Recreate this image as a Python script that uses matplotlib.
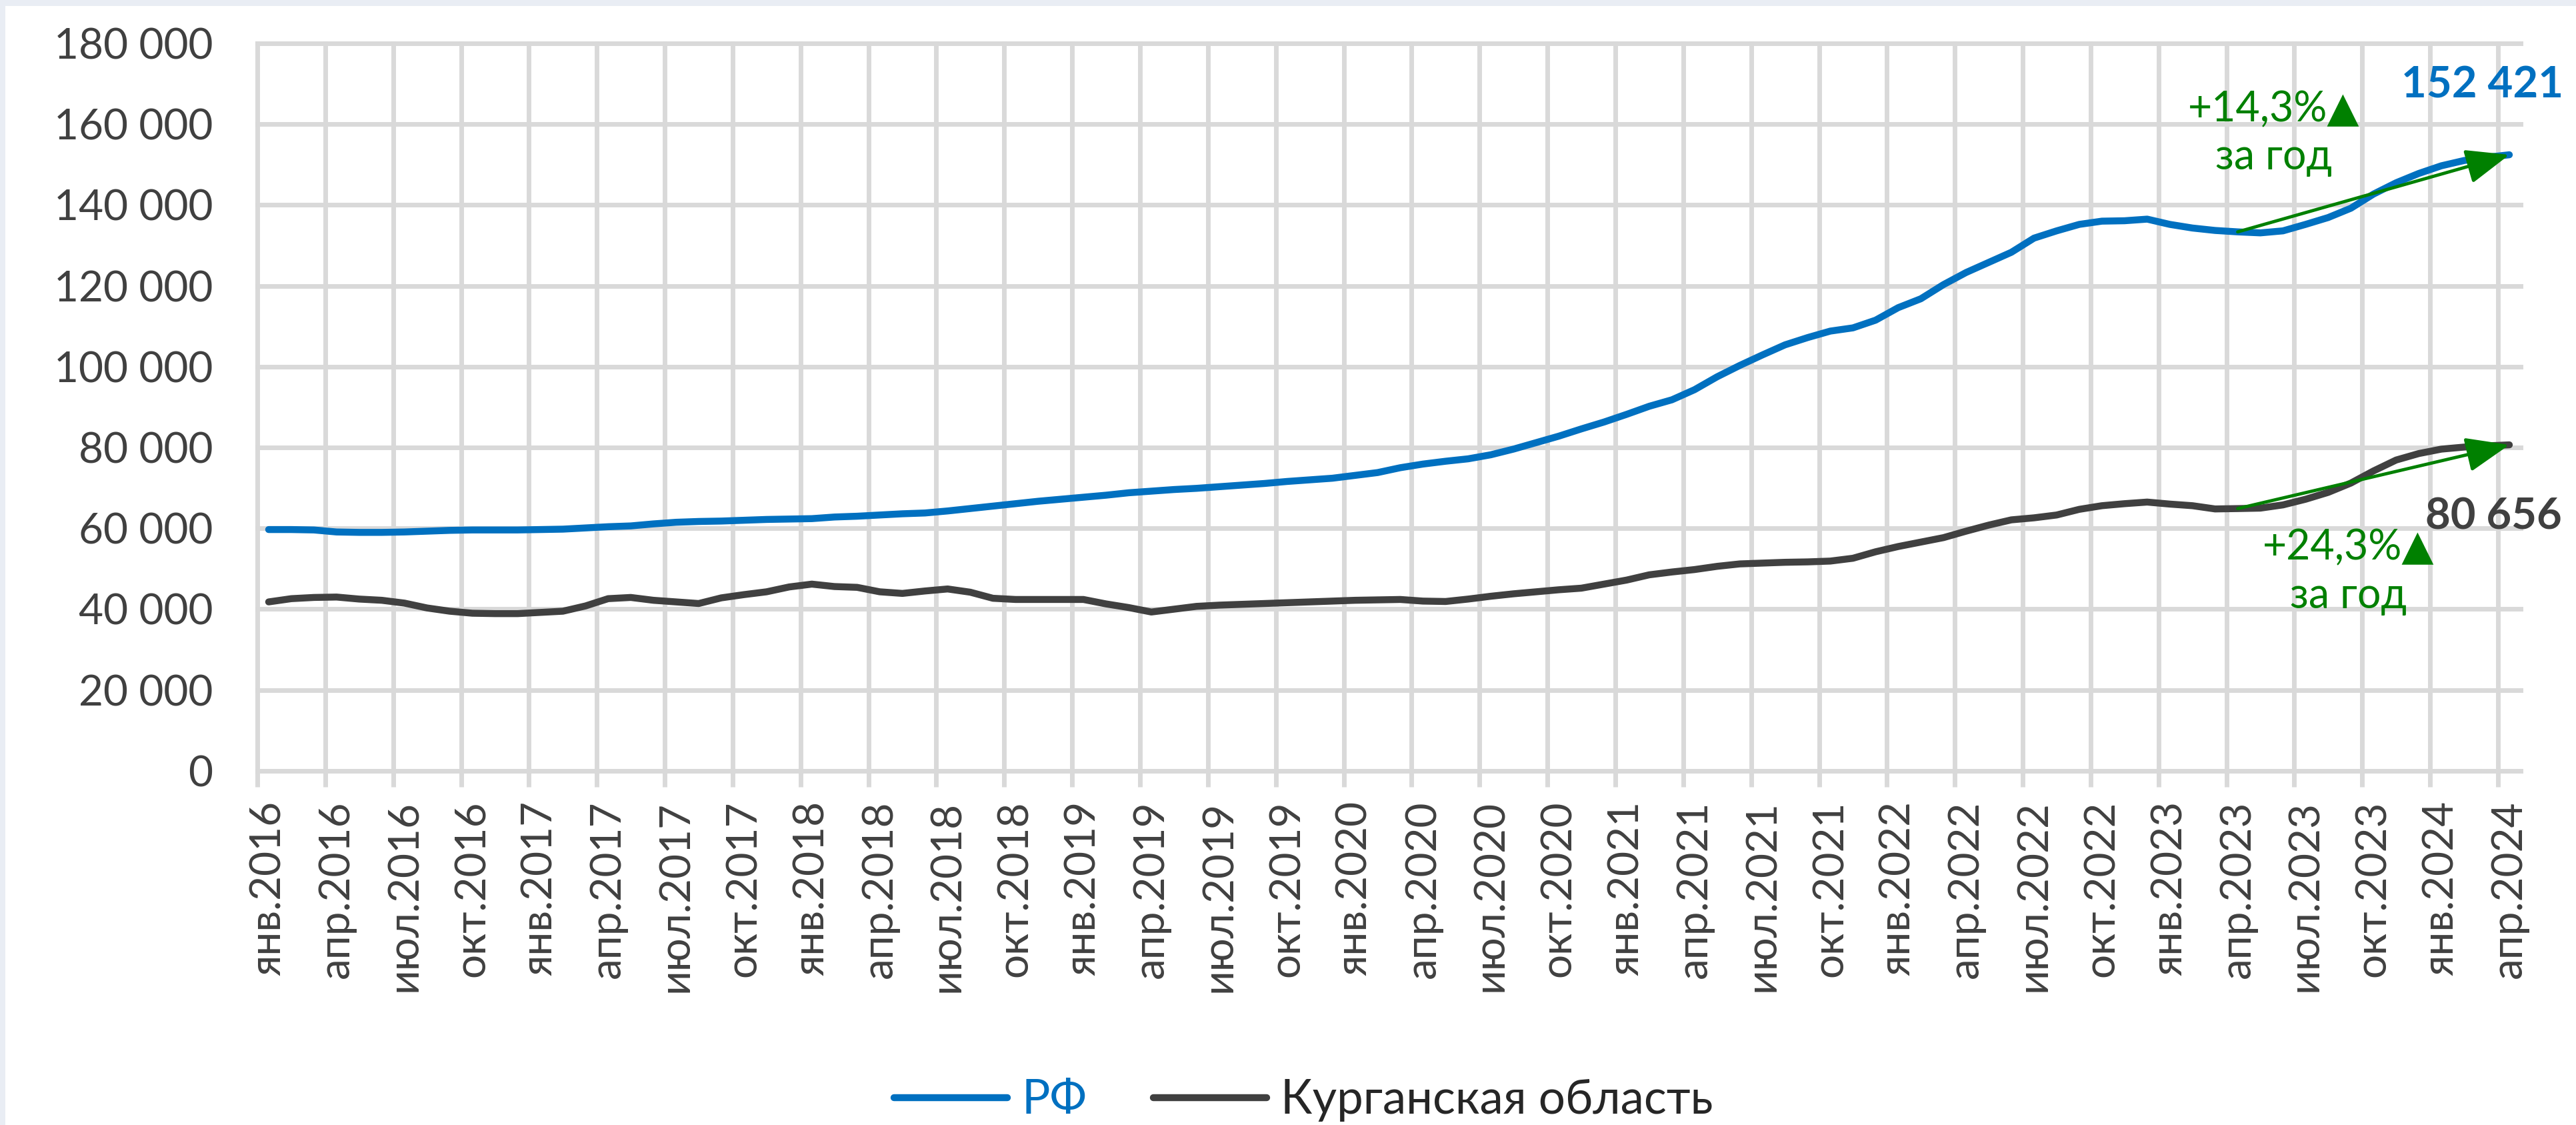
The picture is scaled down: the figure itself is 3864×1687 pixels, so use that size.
import matplotlib
matplotlib.use("Agg")
import matplotlib.pyplot as plt
from matplotlib.patches import Rectangle

# monthly values, янв.2016 .. апр.2024
rf = [59700, 59700, 59600, 59100, 59000, 59000, 59100, 59300, 59500, 59600,
      59600, 59600, 59700, 59800, 60100, 60400, 60600, 61100, 61500, 61700,
      61800, 62000, 62200, 62300, 62400, 62800, 63000, 63300, 63600, 63800,
      64300, 64900, 65500, 66100, 66700, 67200, 67700, 68200, 68800, 69200,
      69600, 69900, 70300, 70700, 71100, 71600, 72000, 72400, 73100, 73800,
      75000, 75900, 76600, 77200, 78200, 79600, 81200, 82800, 84600, 86300,
      88200, 90200, 91800, 94300, 97500, 100300, 102900, 105400, 107200, 108800,
      109600, 111500, 114600, 116800, 120300, 123300, 125800, 128300, 131800, 133600,
      135200, 136000, 136100, 136500, 135200, 134300, 133700, 133350, 133100, 133600,
      135200, 136900, 139200, 142700, 145500, 147800, 149700, 151000, 151800, 152421]

kurgan = [41800, 42600, 42900, 43000, 42500, 42200, 41500, 40300, 39500, 39000,
          38900, 38900, 39200, 39500, 40800, 42600, 42900, 42200, 41800, 41400,
          42800, 43600, 44300, 45500, 46200, 45600, 45400, 44300, 43900, 44500,
          45000, 44200, 42700, 42400, 42400, 42400, 42400, 41300, 40400, 39300,
          40000, 40700, 41000, 41200, 41400, 41600, 41800, 42000, 42200, 42300,
          42400, 42000, 41900, 42500, 43200, 43800, 44300, 44800, 45200, 46200,
          47200, 48500, 49200, 49800, 50600, 51200, 51400, 51600, 51700, 51900,
          52600, 54200, 55500, 56600, 57700, 59300, 60800, 62100, 62600, 63300,
          64700, 65600, 66100, 66500, 66000, 65600, 64800, 64888, 65000, 65800,
          67200, 68900, 71200, 74200, 76900, 78500, 79600, 80100, 80400, 80656]

months = ["янв", "апр", "июл", "окт"]
years = list(range(2016, 2025))
labels = [f"{months[q]}.{y}" for y in years for q in range(4)][:34]

growth_rf = "+14,3%▲\nза год"
growth_kurgan = "+24,3%▲\nза год"
base_month = 87   # апр.2023

BLUE = "#0070C0"
DARK = "#404040"
GRID = "#D9D9D9"
GREEN = "#008000"

plt.rcParams["font.family"] = ["Lato", "DejaVu Sans"]

fig = plt.figure(figsize=(38.64, 16.87), dpi=100, facecolor="#E9EDF4")
fig.patches.append(Rectangle((8 / 3864, 0), 1, 1 - 9 / 1687, transform=fig.transFigure,
                             facecolor="white", edgecolor="none", zorder=-10))
ax = fig.add_axes([0.0999, 0.3148, 0.8786, 0.6467])
ax.set_facecolor("white")

x = list(range(len(rf)))
ax.plot(x, rf, color=BLUE, lw=7.5, solid_capstyle="round", zorder=3, label="РФ")
ax.plot(x, kurgan, color=DARK, lw=7.5, solid_capstyle="round", zorder=3,
        label="Курганская область")

ax.set_xlim(-0.5, 99.5)
ax.set_ylim(0, 180000)

yt = list(range(0, 180001, 20000))
ax.set_yticks(yt)
ax.set_yticklabels([f"{v:,}".replace(",", " ") for v in yt], fontsize=46, color=DARK)
ax.tick_params(axis="y", length=0, pad=48)

ax.set_xticks([3 * k for k in range(34)])
ax.set_xticklabels(labels, rotation=90, fontsize=46, color=DARK)
ax.set_xticks([3 * k - 0.5 for k in range(34)], minor=True)
ax.tick_params(axis="x", which="major", length=0, pad=32)
ax.tick_params(axis="x", which="minor", length=17, width=5, color=GRID, direction="out")

ax.grid(axis="y", color=GRID, lw=5, zorder=0)
ax.grid(axis="x", which="minor", color=GRID, lw=5, zorder=0)
for t in ax.yaxis.get_major_ticks() + ax.xaxis.get_minor_ticks():
    t.gridline.set_clip_on(False)
    t.tick1line.set_clip_on(False)
for s in ax.spines.values():
    s.set_visible(False)
ax.set_axisbelow(True)

# growth arrows
arrow = dict(arrowstyle="-|>,head_length=1.0,head_width=0.4", color=GREEN, lw=3.5,
             mutation_scale=40, shrinkA=0, shrinkB=0)
ax.annotate("", xy=(99, rf[-1]), xytext=(base_month, rf[base_month]), arrowprops=arrow, zorder=5)
ax.annotate("", xy=(99, kurgan[-1]), xytext=(base_month, kurgan[base_month]),
            arrowprops=arrow, zorder=5)

ax.text(88.6, 157700, growth_rf, color=GREEN, fontsize=45, ha="center", va="center",
        linespacing=1.3)
ax.text(91.9, 49200, growth_kurgan, color=GREEN, fontsize=45, ha="center", va="center",
        linespacing=1.3)

ax.text(97.8, 169600, f"{rf[-1]:,}".replace(",", " "), color=BLUE, fontsize=47,
        fontweight="bold", ha="center", va="center")
ax.text(98.3, 62860, f"{kurgan[-1]:,}".replace(",", " "), color=DARK, fontsize=47,
        fontweight="bold", ha="center", va="center")

leg = fig.legend(loc="center", bbox_to_anchor=(0.506, 0.022), ncol=2, frameon=False,
                 fontsize=51, handlelength=2.4, handletextpad=0.3, columnspacing=1.4)
for t, c in zip(leg.get_texts(), [BLUE, "#262626"]):
    t.set_color(c)

fig.savefig("out.png", dpi=100, facecolor=fig.get_facecolor())
